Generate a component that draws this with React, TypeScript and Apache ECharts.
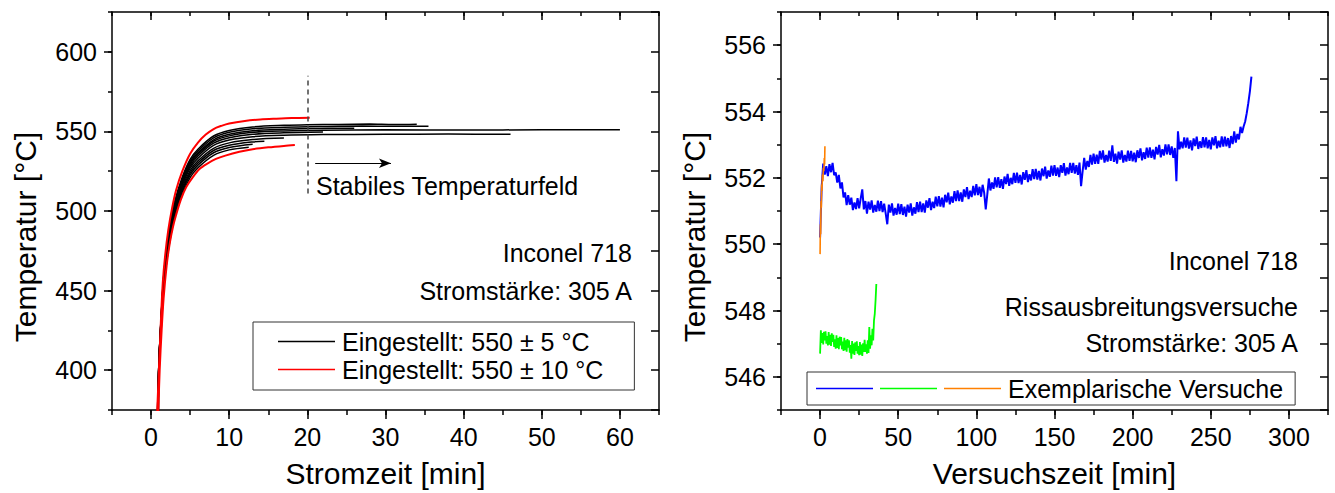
import React, { useEffect, useRef } from 'react';
import * as echarts from 'echarts';

const FONT = '"Liberation Sans", Arial, Helvetica, sans-serif';

// ---------- tick labels ----------
const leftXTicks = [0, 10, 20, 30, 40, 50, 60];
const leftYTicks = [400, 450, 500, 550, 600];
const rightXTicks = [0, 50, 100, 150, 200, 250, 300];
const rightYTicks = [546, 548, 550, 552, 554, 556];

// ---------- left panel: heating curves [min, °C] ----------
const redUpper = [
  [0.75, 370], [1.0, 400], [1.25, 430], [1.5, 455], [1.8, 472], [2.2, 488], [2.7, 502], [3.2, 513],
  [4, 525], [5, 536], [6, 543], [7, 548], [8, 551.5], [9, 553.5], [10, 555], [12, 556.6],
  [14, 557.5], [16, 558], [18, 558.4], [20.3, 558.6],
];
const redLower = [
  [0.9, 370], [1.1, 400], [1.35, 425], [1.6, 445], [2.0, 466], [2.4, 480], [2.8, 490], [3.2, 497.5],
  [3.8, 507], [4.5, 515], [5.3, 521], [6.2, 526.4], [7.2, 529.8], [8.3, 532.7], [9.5, 534.8],
  [11.3, 537.2], [13, 538.8], [15, 540], [17, 540.9], [18.4, 541.4],
];
const black1 = [
  [0.8, 370], [1.0, 405.1], [1.3, 434.6], [1.6, 458.6], [2.0, 477.0], [2.5, 493.6], [3.0, 505.6],
  [4, 521.3], [5, 532.4], [6, 538.8], [8, 547.1], [10, 550.6], [13, 552.8], [17, 553.8],
  [20, 554.2], [24, 554.4], [28, 554.6], [31, 554.3], [34, 554.5],
];
const black2 = [
  [0.8, 370], [1.0, 404.8], [1.3, 434.2], [1.6, 458.0], [2.0, 476.3], [2.5, 492.8], [3.0, 504.7],
  [4, 520.3], [5, 531.3], [6, 537.7], [8, 546.0], [10, 549.5], [13, 551.7], [17, 552.6],
  [22, 553.1], [27, 553.4], [31, 553.2], [35.5, 553.3],
];
const black3 = [
  [0.85, 370], [1.0, 404.6], [1.3, 433.7], [1.6, 457.4], [2.0, 475.6], [2.5, 491.9], [3.0, 503.8],
  [4, 519.2], [5, 530.2], [6, 536.5], [8, 544.7], [10, 548.2], [13, 550.4], [17, 551.3],
  [21, 551.8], [26, 552.0],
];
const black4 = [
  [0.85, 370], [1.0, 404.4], [1.3, 433.3], [1.6, 456.9], [2.0, 475.0], [2.5, 491.3], [3.0, 503.0],
  [4, 518.4], [5, 529.3], [6, 535.6], [8, 543.8], [10, 547.2], [13, 549.4], [17, 550.3],
  [22, 550.8], [30, 551.0], [40, 550.9], [50, 551.0], [60, 551.0],
];
const black5 = [
  [0.85, 370], [1.0, 404.2], [1.3, 432.9], [1.6, 456.3], [2.0, 474.3], [2.5, 490.5], [3.0, 502.2],
  [4, 517.4], [5, 528.2], [6, 534.5], [8, 542.6], [10, 546.0], [13, 548.2], [17, 549.1], [22, 549.6],
];
const black6 = [
  [0.9, 370], [1.0, 403.9], [1.3, 432.4], [1.6, 455.6], [2.0, 473.4], [2.5, 489.5], [3.0, 501.1],
  [4, 516.2], [5, 526.9], [6, 533.1], [8, 541.2], [10, 544.6], [13, 546.7], [17, 547.6],
  [22, 548.0], [30, 548.2], [38, 548.3], [46, 548.2],
];
const black7 = [
  [0.9, 370], [1.0, 403.5], [1.3, 431.8], [1.6, 454.7], [2.0, 472.4], [2.5, 488.3], [3.0, 499.7],
  [4, 514.7], [5, 525.3], [6, 531.5], [8, 539.4], [10, 542.8], [13, 544.9], [17, 545.8],
];
const black8 = [
  [0.9, 370], [1.0, 403.2], [1.3, 431.2], [1.6, 454.0], [2.0, 471.5], [2.5, 487.2], [3.0, 498.6],
  [4, 513.5], [5, 524.0], [6, 530.1], [8, 538.0], [10, 541.3], [13, 543.4], [14.5, 543.8],
];
const black9 = [
  [0.9, 370], [1.0, 403.0], [1.3, 430.7], [1.6, 453.3], [2.0, 470.6], [2.5, 486.2], [3.0, 497.5],
  [4, 512.3], [5, 522.7], [6, 528.8], [8, 536.6], [10, 539.9], [13, 541.9],
];
const black10 = [
  [0.95, 370], [1.05, 402.7], [1.35, 430.2], [1.65, 452.6], [2.05, 469.8], [2.55, 485.2], [3.05, 496.4],
  [4.05, 511.0], [5.05, 521.4], [6.05, 527.4], [8.05, 535.1], [10, 538.4], [12.5, 540.1],
];
const blackCurves = [black1, black2, black3, black4, black5, black6, black7, black8, black9, black10];

// dashed marker and arrow ("Stabiles Temperaturfeld")
const stableMarkerX = 20;
const stableMarkerY = [511, 585];
const arrowFrom = [21, 530];
const arrowTo = [30.7, 530];

// ---------- right panel: 1-min samples of the long (blue) test [°C] ----------
const blueValues = [
  550.2, 551.7, 552.43, 552.10, 552.35, 552.05, 552.41, 552.17, 552.45, 552.08,
  552.16, 551.86, 552.09, 551.68, 551.86, 551.41, 551.56, 551.18, 551.48, 551.19,
  551.40, 551.03, 551.26, 551.06, 551.39, 551.08, 551.38, 551.65, 551.05, 551.30,
  550.92, 551.28, 551.04, 551.32, 550.95, 551.18, 550.98, 551.31, 551.00, 551.30,
  550.97, 551.22, 550.92, 550.60, 551.19, 550.95, 551.23, 550.86, 551.09, 550.89,
  551.22, 550.91, 551.21, 550.88, 551.13, 550.83, 551.19, 550.95, 551.23, 550.86,
  551.11, 550.92, 551.27, 550.97, 551.28, 550.97, 551.23, 550.95, 551.32, 551.10,
  551.39, 551.03, 551.28, 551.09, 551.43, 551.14, 551.45, 551.13, 551.40, 551.11,
  551.49, 551.26, 551.55, 551.20, 551.44, 551.25, 551.60, 551.30, 551.62, 551.30,
  551.56, 551.28, 551.65, 551.42, 551.72, 551.36, 551.61, 551.42, 551.76, 551.47,
  551.81, 551.48, 551.73, 551.43, 551.79, 551.55, 551.05, 551.50, 551.98, 551.62,
  551.86, 551.67, 552.01, 551.71, 552.02, 551.70, 551.96, 551.67, 552.04, 551.81,
  552.12, 551.76, 552.00, 551.81, 552.15, 551.85, 552.16, 551.84, 552.09, 551.80,
  552.17, 551.94, 552.23, 551.87, 552.11, 551.92, 552.26, 551.96, 552.27, 551.95,
  552.21, 551.92, 552.28, 552.05, 552.34, 551.98, 552.22, 552.03, 552.37, 552.07,
  552.38, 552.06, 552.31, 552.02, 552.38, 552.15, 552.44, 552.07, 552.31, 552.11,
  552.45, 552.15, 552.45, 552.13, 552.38, 552.09, 552.46, 551.75, 552.20, 552.60,
  552.25, 552.51, 552.33, 552.69, 552.40, 552.73, 552.42, 552.70, 552.42, 552.81,
  552.55, 552.83, 552.46, 552.69, 552.49, 552.82, 552.51, 552.98, 552.48, 552.73,
  552.43, 552.79, 552.55, 552.83, 552.46, 552.69, 552.49, 552.82, 552.51, 552.81,
  552.50, 552.76, 552.47, 552.83, 552.60, 552.89, 552.53, 552.77, 552.57, 552.91,
  552.61, 552.92, 552.60, 552.85, 552.56, 552.93, 552.70, 552.99, 552.62, 552.86,
  552.67, 553.01, 552.71, 553.01, 552.69, 552.95, 552.60, 552.90, 551.90, 553.40,
  552.86, 553.09, 552.89, 553.22, 552.91, 553.21, 552.88, 553.13, 552.83, 553.19,
  552.96, 553.24, 552.87, 553.10, 552.90, 553.23, 552.92, 553.22, 552.89, 553.14,
  552.86, 553.22, 552.98, 553.26, 552.89, 553.12, 552.92, 553.25, 552.94, 553.24,
  552.95, 553.20, 552.90, 553.26, 553.02, 553.40, 553.06, 553.32, 553.16, 553.54,
  553.35, 553.55, 553.70, 553.95, 554.25, 554.60, 555.05,
];
const blueStep = 1; // min
// 0.5-min samples of the short (green) test [°C]
const greenValues = [
  546.70, 547.40, 547.02, 547.32, 546.98, 547.36, 547.10, 547.37, 547.00, 547.23,
  546.95, 547.35, 546.97, 547.27, 546.93, 547.31, 547.05, 547.27, 546.90, 547.13,
  546.85, 547.25, 546.87, 547.17, 546.83, 547.21, 546.95, 547.20, 546.83, 547.06,
  546.78, 547.18, 546.80, 547.10, 546.76, 547.14, 546.88, 547.10, 546.73, 546.96,
  546.55, 547.08, 546.70, 547.00, 546.66, 547.04, 546.78, 547.07, 546.70, 546.93,
  546.65, 547.05, 546.67, 546.97, 546.63, 547.01, 546.75, 547.12, 546.75, 546.98,
  546.70, 547.10, 546.72, 547.50, 546.85, 547.25, 546.95, 547.45, 547.10, 547.70,
  547.90, 548.30, 548.80,
];
const greenStep = 0.5; // min
const orangeData = [
  [0, 549.7], [0.2, 550.6], [0.4, 550.3], [0.6, 551.3], [0.8, 551.1], [1.0, 551.8], [1.2, 551.6],
  [1.5, 552.1], [1.8, 551.9], [2.1, 552.3], [2.4, 552.2], [2.7, 552.6], [2.9, 552.4], [3.1, 552.95],
];

const NAME_5 = 'Eingestellt: 550 ± 5 °C';
const NAME_10 = 'Eingestellt: 550 ± 10 °C';

function buildOption(): any {
  const lineW = 1.5;
  const axisLine = { show: true, onZero: false, lineStyle: { color: '#000', width: lineW } };
  const noLine = { show: false, onZero: false };
  const labelStyle = { color: '#000', fontSize: 25, fontFamily: FONT };
  const nameStyle = { color: '#000', fontSize: 30, fontFamily: FONT };

  const xAxesFor = (gridIndex: number, min: number, max: number, interval: number, ticks: number[], name: string) => [
    {
      type: 'value', gridIndex, position: 'bottom', min, max, interval,
      axisLine, splitLine: { show: false },
      axisTick: { show: true, inside: false, length: 5, lineStyle: { color: '#000', width: lineW } },
      axisLabel: { ...labelStyle, margin: 14, customValues: ticks },
      name, nameLocation: 'middle', nameGap: 48, nameTextStyle: nameStyle,
    },
    {
      type: 'value', gridIndex, position: 'bottom', min, max, interval,
      axisLine: noLine, splitLine: { show: false },
      axisTick: { show: true, inside: false, length: 9, customValues: ticks, lineStyle: { color: '#000', width: lineW } },
      axisLabel: { show: false },
    },
    {
      type: 'value', gridIndex, position: 'top', min, max, interval,
      axisLine, splitLine: { show: false },
      axisTick: { show: true, inside: true, length: 4, lineStyle: { color: '#000', width: lineW } },
      axisLabel: { show: false },
    },
    {
      type: 'value', gridIndex, position: 'top', min, max, interval,
      axisLine: noLine, splitLine: { show: false },
      axisTick: { show: true, inside: true, length: 8, customValues: ticks, lineStyle: { color: '#000', width: lineW } },
      axisLabel: { show: false },
    },
  ];
  const yAxesFor = (gridIndex: number, min: number, max: number, interval: number, ticks: number[]) => [
    {
      type: 'value', gridIndex, position: 'left', min, max, interval,
      axisLine, splitLine: { show: false },
      axisTick: { show: true, inside: false, length: 4, lineStyle: { color: '#000', width: lineW } },
      axisLabel: { ...labelStyle, margin: 15, customValues: ticks },
      name: 'Temperatur [°C]', nameLocation: 'middle', nameGap: 72,
      nameTextStyle: { ...nameStyle, padding: [0, 52, 0, 0] },
    },
    {
      type: 'value', gridIndex, position: 'left', min, max, interval,
      axisLine: noLine, splitLine: { show: false },
      axisTick: { show: true, inside: false, length: 8, customValues: ticks, lineStyle: { color: '#000', width: lineW } },
      axisLabel: { show: false },
    },
    {
      type: 'value', gridIndex, position: 'right', min, max, interval,
      axisLine, splitLine: { show: false },
      axisTick: { show: true, inside: true, length: 8, lineStyle: { color: '#000', width: lineW } },
      axisLabel: { show: false },
    },
  ];

  const series: any[] = [];
  blackCurves.forEach((d, i) => {
    series.push({
      type: 'line', name: NAME_5, xAxisIndex: 0, yAxisIndex: 0, data: d,
      symbol: 'none', showSymbol: false, smooth: 0.3, color: '#000',
      lineStyle: { color: '#000', width: 1.5 },
      ...(i === 3
        ? {
            markLine: {
              silent: true, animation: false, label: { show: false },
              data: [
                [
                  { coord: [stableMarkerX, stableMarkerY[0]], symbol: 'none', lineStyle: { color: '#444', width: 1.5, type: [5, 4] } },
                  { coord: [stableMarkerX, stableMarkerY[1]], symbol: 'none' },
                ],
                [
                  { coord: arrowFrom, symbol: 'none', lineStyle: { color: '#000', width: 1.2, type: 'solid' } },
                  { coord: arrowTo, symbol: 'arrow', symbolSize: [7, 12] },
                ],
              ],
            },
          }
        : {}),
    });
  });
  [redUpper, redLower].forEach((d) => {
    series.push({
      type: 'line', name: NAME_10, xAxisIndex: 0, yAxisIndex: 0, data: d,
      symbol: 'none', showSymbol: false, smooth: 0.3, color: '#ff0000',
      lineStyle: { color: '#ff0000', width: 2 },
    });
  });
  series.push({
    type: 'line', name: 'blue', xAxisIndex: 4, yAxisIndex: 3,
    data: blueValues.map((v, i) => [i * blueStep, v]),
    symbol: 'none', showSymbol: false, color: '#0000ff', lineStyle: { color: '#0000ff', width: 2 },
  });
  series.push({
    type: 'line', name: 'green', xAxisIndex: 4, yAxisIndex: 3,
    data: greenValues.map((v, i) => [i * greenStep, v]),
    symbol: 'none', showSymbol: false, color: '#00ff00', lineStyle: { color: '#00ff00', width: 1.8 },
  });
  series.push({
    type: 'line', name: 'orange', xAxisIndex: 4, yAxisIndex: 3, data: orangeData,
    symbol: 'none', showSymbol: false, color: '#ff8000', lineStyle: { color: '#ff8000', width: 1.6 },
  });

  const txt = (x: number, y: number, text: string, align: string) => ({
    type: 'text', x, y, silent: true, z: 100,
    style: {
      text, fill: '#000', fontSize: 25, fontFamily: FONT,
      align, textAlign: align, verticalAlign: 'middle', textVerticalAlign: 'middle',
    },
  });

  return {
    animation: false,
    backgroundColor: '#fff',
    textStyle: { fontFamily: FONT },
    grid: [
      { left: 112, top: 12, width: 547, height: 401 },
      { left: 781, top: 12, width: 547, height: 401 },
    ],
    xAxis: [
      ...xAxesFor(0, -5, 65, 5, leftXTicks, 'Stromzeit [min]'),
      ...xAxesFor(1, -25, 325, 25, rightXTicks, 'Versuchszeit [min]'),
    ],
    yAxis: [
      ...yAxesFor(0, 375, 625, 25, leftYTicks),
      ...yAxesFor(1, 545, 557, 1, rightYTicks),
    ],
    legend: [
      {
        data: [NAME_5, NAME_10], orient: 'vertical', left: 253, top: 322,
        padding: [7, 31, 8, 25], itemGap: 3, itemWidth: 57, itemHeight: 1.5, icon: 'rect',
        borderColor: '#333', borderWidth: 1, backgroundColor: '#fff', selectedMode: false,
        textStyle: { color: '#000', fontSize: 25, fontFamily: FONT, padding: [0, 0, 0, 2] },
      },
      {
        data: ['blue', 'green', 'orange'], orient: 'horizontal', left: 807, top: 372,
        padding: [4, 12, 4, 9], itemGap: 7, itemWidth: 57, itemHeight: 1.5, icon: 'rect',
        borderColor: '#333', borderWidth: 1, backgroundColor: '#fff', selectedMode: false,
        formatter: (n: string) => (n === 'orange' ? 'Exemplarische Versuche' : ''),
        textStyle: { color: '#000', fontSize: 25, fontFamily: FONT, padding: [0, 0, 0, 2] },
      },
    ],
    graphic: [
      txt(316, 186, 'Stabiles Temperaturfeld', 'left'),
      txt(632, 253, 'Inconel 718', 'right'),
      txt(632, 291, 'Stromstärke: 305 A', 'right'),
      txt(1298, 261, 'Inconel 718', 'right'),
      txt(1298, 307, 'Rissausbreitungsversuche', 'right'),
      txt(1298, 343, 'Stromstärke: 305 A', 'right'),
    ],
    series,
  };
}

export default function App() {
  const ref = useRef<HTMLDivElement>(null);
  useEffect(() => {
    document.body.style.margin = '0';
    if (!ref.current) return;
    const chart = echarts.init(ref.current, undefined, { renderer: 'svg' });
    chart.setOption(buildOption());
    return () => chart.dispose();
  }, []);
  return <div ref={ref} style={{ position: 'absolute', left: 0, top: 0, width: 1335, height: 493 }} />;
}
